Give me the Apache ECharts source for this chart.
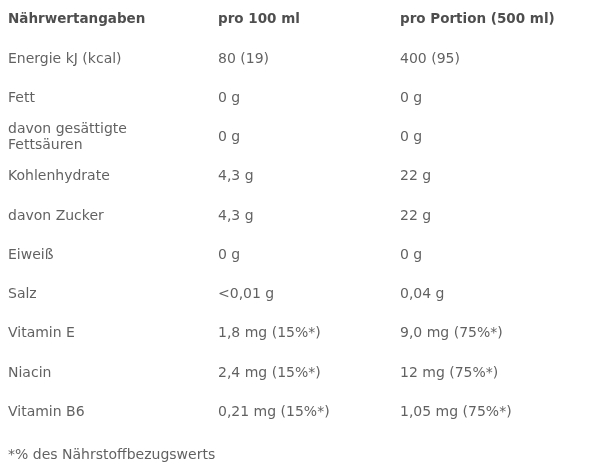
<!DOCTYPE html>
<html>
<head>
<meta charset="utf-8">
<script src="https://cdn.jsdelivr.net/npm/echarts@6/dist/echarts.min.js"></script>
<style>html,body{margin:0;padding:0;background:#fff}#main{width:600px;height:476px}</style>
</head>
<body>
<div id="main"></div>
<script>
var headers = ['Nährwertangaben', 'pro 100 ml', 'pro Portion (500 ml)'];
var rowLabels = ['Energie kJ (kcal)', 'Fett', 'davon gesättigte\nFettsäuren', 'Kohlenhydrate', 'davon Zucker',
    'Eiweiß', 'Salz', 'Vitamin E', 'Niacin', 'Vitamin B6'];
var per100 = ['80 (19)', '0 g', '0 g', '4,3 g', '4,3 g', '0 g', '<0,01 g', '1,8 mg (15%*)', '2,4 mg (15%*)', '0,21 mg (15%*)'];
var perPortion = ['400 (95)', '0 g', '0 g', '22 g', '22 g', '0 g', '0,04 g', '9,0 mg (75%*)', '12 mg (75%*)', '1,05 mg (75%*)'];
var footnote = '*% des Nährstoffbezugswerts';

var colX = [8, 218, 400];
var rows = [];
for (var i = 0; i < 12; i++) rows.push('r' + i);

var cells = [];
for (var c = 0; c < 3; c++) {
    cells.push({ value: [colX[c], rows[0]], txt: headers[c], bold: true });
}
for (var r = 0; r < rowLabels.length; r++) {
    cells.push({ value: [colX[0], rows[r + 1]], txt: rowLabels[r] });
    cells.push({ value: [colX[1], rows[r + 1]], txt: per100[r] });
    cells.push({ value: [colX[2], rows[r + 1]], txt: perPortion[r] });
}
cells.push({ value: [colX[0], rows[11]], txt: footnote, foot: true });

var chart = echarts.init(document.getElementById('main'));
chart.setOption({
    animation: false,
    grid: { left: 0, right: 0, top: -5, bottom: 5 },
    xAxis: { type: 'value', min: 0, max: 600, show: false },
    yAxis: { type: 'category', data: rows, inverse: true, show: false },
    series: [{
        type: 'scatter',
        symbolSize: 0,
        data: cells.map(function (d) {
            return {
                value: d.value,
                label: {
                    show: true,
                    position: 'inside',
                    align: 'left',
                    verticalAlign: 'middle',
                    formatter: d.txt,
                    fontFamily: 'DejaVu Sans',
                    fontSize: d.bold ? 13.5 : 14,
                    fontWeight: d.bold ? 'bold' : 'normal',
                    color: d.bold ? '#222' : '#3a3a3a',
                    lineHeight: 16,
                    offset: d.foot ? [0, 4] : [0, 0]
                }
            };
        })
    }]
});
</script>
</body>
</html>
